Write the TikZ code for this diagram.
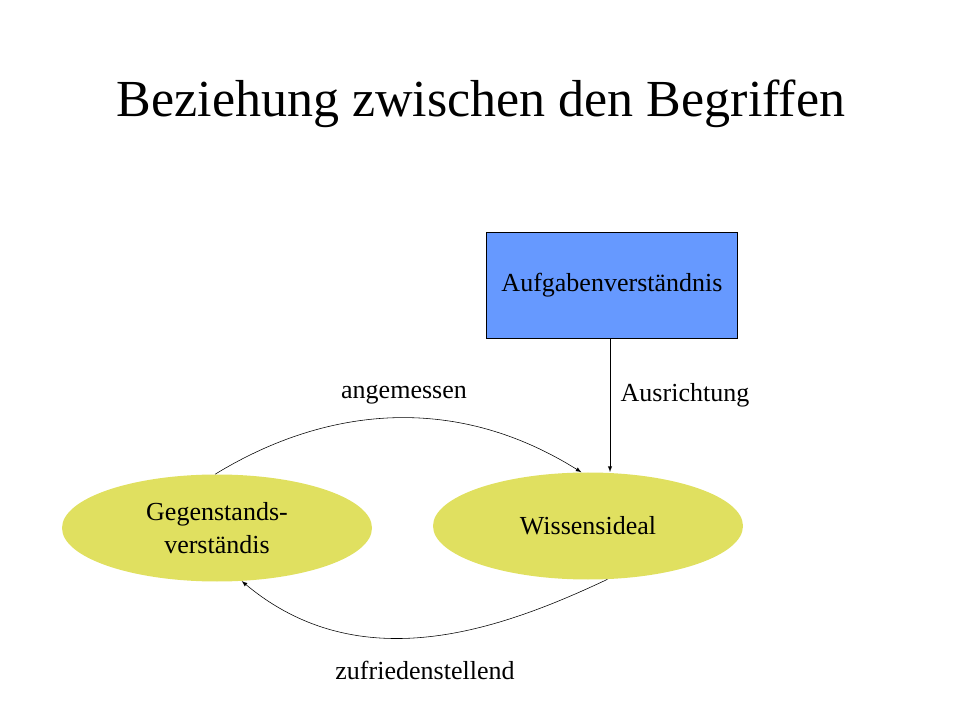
\documentclass[tikz,border=0pt]{standalone}
\usepackage{fontspec}
\setmainfont{Liberation Serif}
\usetikzlibrary{shapes.geometric}
\definecolor{boxblue}{HTML}{6699FF}
\definecolor{ovalyellow}{HTML}{E0E060}
\begin{document}
\begin{tikzpicture}[x=0.025cm, y=-0.025cm,
    oval/.style={ellipse, fill=ovalyellow, minimum width=310*0.025cm, minimum height=107*0.025cm, align=center, font=\fontsize{18.5}{23}\selectfont},
    lbl/.style={font=\fontsize{18.5}{23}\selectfont}]
        \useasboundingbox (0, 0) rectangle (960, 720);
        \node[font=\fontsize{37}{44}\selectfont] (title) at (481, 104) {Beziehung zwischen den Begriffen};
        \node[draw, fill=boxblue, minimum width=251*0.025cm, minimum height=106*0.025cm, lbl] (auf) at (612, 285) {Aufgabenverständnis};
        \node[oval] (gl) at (217, 528) {Gegenstands-\\verständis};
        \node[oval] (wi) at (588, 526) {Wissensideal};
        \coordinate (aufend) at (610, 472);
        \draw[-latex] (auf.south -| aufend) -- (aufend);
        \node[lbl] (ausr) at (685, 395) {Ausrichtung};
        \draw[-latex] (gl.92) .. controls (320, 410) and (450, 390) .. (wi.97);
        \node[lbl] (ang) at (404, 395) {angemessen};
        \draw[-latex] (wi.290) .. controls (500, 630) and (360, 680) .. (gl.295);
        \node[lbl] (zuf) at (425, 670) {zufriedenstellend};
\end{tikzpicture}
\end{document}
